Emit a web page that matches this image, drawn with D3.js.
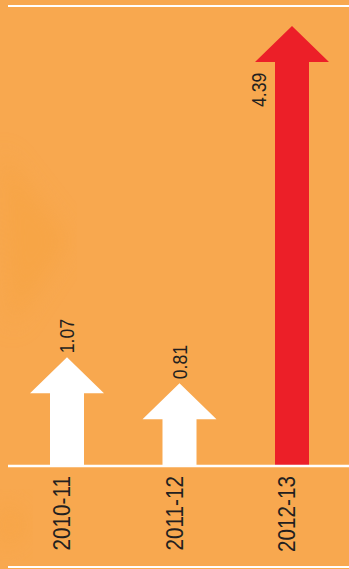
<html>
<head>
<script src="https://cdn.jsdelivr.net/npm/d3@7"></script>
<style>
body { margin: 0; background: #f8a84f; }
svg { display: block; }
text { font-family: 'Liberation Sans', Arial, sans-serif; fill: #231f20; }
</style>
</head>
<body>
<svg width="349" height="569"></svg>
<script>
var categories = ["2010-11", "2011-12", "2012-13"];
var values = [1.07, 0.81, 4.39];
var arrowColors = ["#ffffff", "#ffffff", "#ec1f28"];

var svg = d3.select("svg");
var W = +svg.attr("width"), H = +svg.attr("height");
var base = 466;

svg.append("rect").attr("width", W).attr("height", H).attr("fill", "#f8a84f");

// soft darker patches on the left edge
var defs = svg.append("defs");
defs.append("filter").attr("id", "blur").append("feGaussianBlur").attr("stdDeviation", 12);
svg.append("path").attr("d", "M0,150 L70,240 L10,330 Z")
  .attr("fill", "#f6a23e").attr("opacity", 0.5).attr("filter", "url(#blur)");
svg.append("path").attr("d", "M0,495 L30,525 L0,555 Z")
  .attr("fill", "#f6a23e").attr("opacity", 0.5).attr("filter", "url(#blur)");

var x = d3.scalePoint().domain(categories).range([67, 292]);
var y = d3.scaleLinear().domain([0, 4.4]).range([464, 25]);

var headH = 36, headW = 37, shaftW = 17;

function arrowPath(cx, top) {
  return "M" + (cx - shaftW) + "," + base +
    "L" + (cx - shaftW) + "," + (top + headH) +
    "L" + (cx - headW) + "," + (top + headH) +
    "L" + cx + "," + top +
    "L" + (cx + headW) + "," + (top + headH) +
    "L" + (cx + shaftW) + "," + (top + headH) +
    "L" + (cx + shaftW) + "," + base + "Z";
}

svg.selectAll("path.arrow").data(values).enter().append("path")
  .attr("class", "arrow")
  .attr("fill", function (d, i) { return arrowColors[i]; })
  .attr("d", function (d, i) { return arrowPath(x(categories[i]), y(d)); });

// lines
svg.append("line").attr("x1", 8).attr("x2", W).attr("y1", 6).attr("y2", 6)
  .attr("stroke", "#fff").attr("stroke-width", 2);
svg.append("line").attr("x1", 8).attr("x2", W).attr("y1", base).attr("y2", base)
  .attr("stroke", "#fff").attr("stroke-width", 2.5);
svg.append("line").attr("x1", 8).attr("x2", W).attr("y1", 567).attr("y2", 567)
  .attr("stroke", "#fff").attr("stroke-width", 2);

// value labels
svg.selectAll("text.val").data(values).enter().append("text")
  .attr("class", "val")
  .attr("font-size", 20)
  .attr("text-anchor", "start")
  .attr("transform", function (d, i) {
    var cx = x(categories[i]);
    if (y(d) < 60) return "translate(" + (cx - 26) + "," + (y(d) + 81) + ") rotate(-90) scale(0.88,1)";
    return "translate(" + (cx + 7) + "," + (y(d) - 4) + ") rotate(-90) scale(0.88,1)";
  })
  .text(function (d) { return d.toFixed(2); });

// category labels
svg.selectAll("text.cat").data(categories).enter().append("text")
  .attr("class", "cat")
  .attr("font-size", 23)
  .attr("text-anchor", "end")
  .attr("transform", function (d) { return "translate(" + (x(d) + 3) + "," + (base + 10) + ") rotate(-90) scale(0.9,1)"; })
  .text(function (d) { return d; });
</script>
</body>
</html>
